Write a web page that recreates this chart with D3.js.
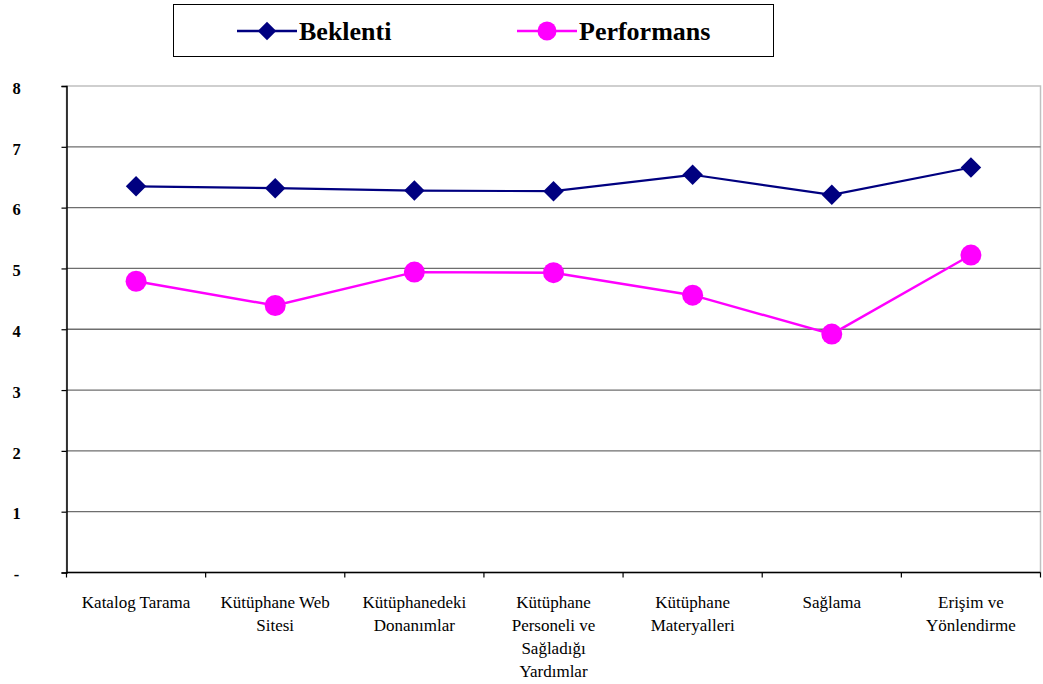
<!DOCTYPE html>
<html>
<head>
<meta charset="utf-8">
<script src="https://cdn.jsdelivr.net/npm/d3@7"></script>
<style>
  html, body { margin: 0; padding: 0; background: #fff; }
  svg { display: block; }
  svg text { font-family: "Liberation Serif", "Times New Roman", Times, "DejaVu Serif", serif; }
</style>
</head>
<body>
<svg id="chart" width="1043" height="684"></svg>
<script>
// Category names, one entry per line of the wrapped label
const categories = [
  ["Katalog Tarama"],
  ["Kütüphane Web", "Sitesi"],
  ["Kütüphanedeki", "Donanımlar"],
  ["Kütüphane", "Personeli ve", "Sağladığı", "Yardımlar"],
  ["Kütüphane", "Materyalleri"],
  ["Sağlama"],
  ["Erişim ve", "Yönlendirme"]
];
const beklenti   = [6.35, 6.32, 6.28, 6.27, 6.54, 6.21, 6.66];
const performans = [4.79, 4.39, 4.94, 4.93, 4.56, 3.92, 5.22];
const yTicks = [0, 1, 2, 3, 4, 5, 6, 7, 8];
const seriesNames = ["Beklenti", "Performans"];

const serif = '"Liberation Serif", "Times New Roman", Times, "DejaVu Serif", serif';
const svg = d3.select("#chart");
const plotLeft = 66.5, plotRight = 1040.5, plotTop = 86, plotBottom = 572.5;

const keys = categories.map(c => c.join(" "));
const x = d3.scaleBand().domain(keys).range([plotLeft, plotRight]).paddingInner(0).paddingOuter(0);
const y = d3.scaleLinear().domain([0, 8]).range([plotBottom, plotTop]);
const cx = k => x(k) + x.bandwidth() / 2;

// Plot frame (light grey top/right border)
svg.append("rect")
  .attr("x", plotLeft).attr("y", plotTop)
  .attr("width", plotRight - plotLeft).attr("height", plotBottom - plotTop)
  .attr("fill", "none").attr("stroke", "#c0c0c0").attr("stroke-width", 1.5);

// Horizontal gridlines
svg.append("g").selectAll("line")
  .data(yTicks.filter(v => v > 0 && v < 8))
  .join("line")
  .attr("x1", plotLeft).attr("x2", plotRight)
  .attr("y1", d => y(d)).attr("y2", d => y(d))
  .attr("stroke", "#6e6e6e").attr("stroke-width", 1.3);

// Y axis
const yAxis = svg.append("g")
  .attr("transform", `translate(${plotLeft},0)`)
  .call(d3.axisLeft(y).tickValues(yTicks).tickSize(5)
    .tickFormat(d => d === 0 ? "-" : d3.format("d")(d)));
yAxis.attr("font-family", null);
yAxis.select(".domain").attr("stroke", "#000").attr("stroke-width", 1.5);
yAxis.selectAll(".tick line").attr("stroke", "#000").attr("stroke-width", 1.2);
yAxis.selectAll(".tick text")
  .attr("x", -50).attr("dy", "0.62em").attr("y", -3)
  .attr("text-anchor", "middle")
  .style("font-family", serif)
  .attr("font-weight", "bold").attr("font-size", 16.5).attr("fill", "#000");

// X axis line and boundary ticks
const xg = svg.append("g");
xg.append("line")
  .attr("x1", plotLeft).attr("x2", plotRight)
  .attr("y1", plotBottom).attr("y2", plotBottom)
  .attr("stroke", "#000").attr("stroke-width", 1.5);
const edges = keys.map(k => x(k)).concat([x(keys[keys.length - 1]) + x.bandwidth()]);
xg.selectAll("line.tick").data(edges).join("line")
  .attr("class", "tick")
  .attr("x1", d => d).attr("x2", d => d)
  .attr("y1", plotBottom).attr("y2", plotBottom + 5)
  .attr("stroke", "#000").attr("stroke-width", 1.2);

// Category labels
const lab = xg.selectAll("text.cat").data(categories).join("text")
  .attr("class", "cat")
  .attr("text-anchor", "middle")
  .style("font-family", serif)
  .attr("font-size", 17).attr("fill", "#000");
lab.each(function(lines, i) {
  const t = d3.select(this);
  lines.forEach((ln, j) => {
    t.append("tspan").attr("x", cx(keys[i])).attr("y", 607.5 + j * 23).text(ln);
  });
});

// Series lines and markers
const line = d3.line().x((d, i) => cx(keys[i])).y(d => y(d));

svg.append("path").datum(beklenti)
  .attr("d", line).attr("fill", "none")
  .attr("stroke", "#000080").attr("stroke-width", 2.2);
svg.append("path").datum(performans)
  .attr("d", line).attr("fill", "none")
  .attr("stroke", "#ff00ff").attr("stroke-width", 2.4);

const diamond = d3.symbol().type(d3.symbolSquare).size(210);
svg.append("g").selectAll("path").data(beklenti).join("path")
  .attr("d", diamond)
  .attr("transform", (d, i) => `translate(${cx(keys[i])},${y(d)}) rotate(45)`)
  .attr("fill", "#000080");

svg.append("g").selectAll("circle").data(performans).join("circle")
  .attr("cx", (d, i) => cx(keys[i])).attr("cy", d => y(d))
  .attr("r", 10.5).attr("fill", "#ff00ff");

// Legend
const lg = svg.append("g");
lg.append("rect")
  .attr("x", 173.5).attr("y", 4.5).attr("width", 600).attr("height", 52)
  .attr("fill", "#fff").attr("stroke", "#000").attr("stroke-width", 1);

const legendItems = [
  { name: seriesNames[0], color: "#000080", x0: 237, shape: "diamond" },
  { name: seriesNames[1], color: "#ff00ff", x0: 517, shape: "circle" }
];
legendItems.forEach(it => {
  const ly = 31;
  lg.append("line").attr("x1", it.x0).attr("x2", it.x0 + 60)
    .attr("y1", ly).attr("y2", ly)
    .attr("stroke", it.color).attr("stroke-width", 2.4);
  if (it.shape === "diamond") {
    lg.append("path").attr("d", d3.symbol().type(d3.symbolSquare).size(170))
      .attr("transform", `translate(${it.x0 + 30},${ly}) rotate(45)`)
      .attr("fill", it.color);
  } else {
    lg.append("circle").attr("cx", it.x0 + 30).attr("cy", ly).attr("r", 9.5)
      .attr("fill", it.color);
  }
  lg.append("text")
    .attr("x", it.x0 + 62).attr("y", ly + 9)
    .style("font-family", serif)
    .attr("font-weight", "bold").attr("font-size", 26).attr("fill", "#000")
    .text(it.name);
});
</script>
</body>
</html>
